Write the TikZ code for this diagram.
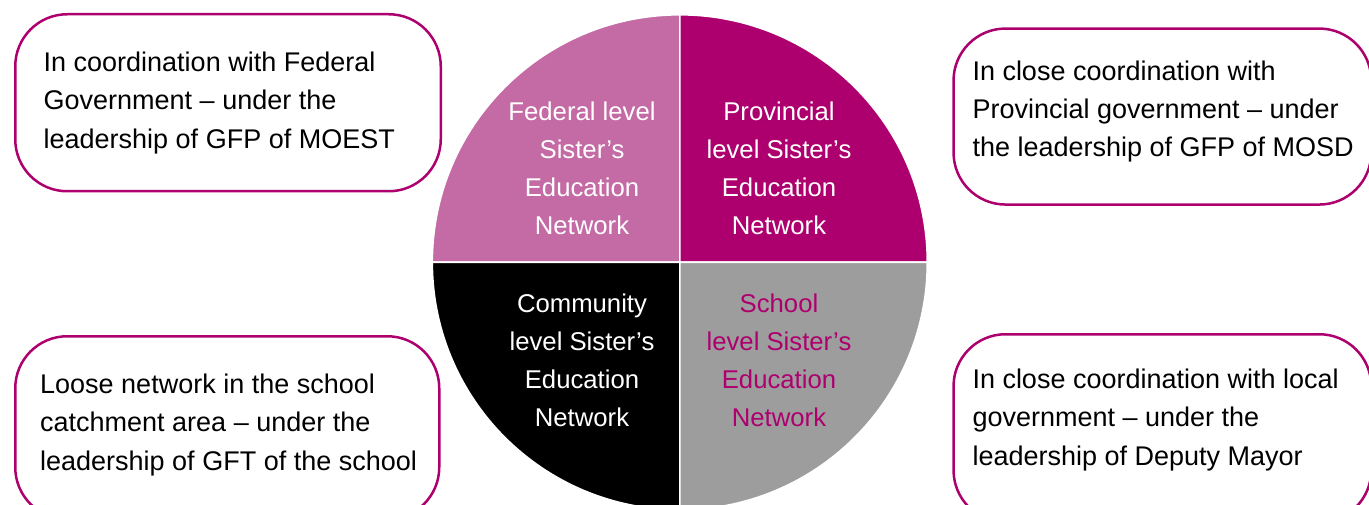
\documentclass[tikz,border=0pt]{standalone}
\usepackage{fontspec}
\setmainfont{Liberation Sans}
\definecolor{pinkq}{HTML}{C46AA4}
\definecolor{magq}{HTML}{AD006E}
\definecolor{grayq}{HTML}{9D9D9D}
\tikzset{
  boxtxt/.style={anchor=base west, align=left, inner sep=0pt, font=\fontsize{27}{38.3}\selectfont},
  qtxt/.style={anchor=base, align=center, inner sep=0pt, font=\fontsize{25.7}{37.9}\selectfont, text=white},
  netbox/.style={draw=magq, line width=2.5pt, rounded corners=52pt, anchor=north west, inner sep=0pt, fill=white},
  quad/.style={draw=white, line width=1.6pt}
}
\begin{document}
\begin{tikzpicture}[x=1pt,y=1pt]
\useasboundingbox (0,0) rectangle (1369,-505);
\clip (0,0) rectangle (1369,-505);
\fill[white] (0,0) rectangle (1369,-505);
\coordinate (c) at (679.8,-262.3);
% quadrants
\path[quad, fill=pinkq] (c) -- ++(-247.5,0) arc[start angle=180, end angle=90, radius=247.5] -- cycle;
\path[quad, fill=magq] (c) -- ++(0,247.5) arc[start angle=90, end angle=0, radius=247.5] -- cycle;
\path[quad, fill=black] (c) -- ++(-247.5,0) arc[start angle=180, end angle=270, radius=247.5] -- cycle;
\path[quad, fill=grayq] (c) -- ++(247.5,0) arc[start angle=0, end angle=-90, radius=247.5] -- cycle;
% boxes
\node[netbox, minimum width=425.5pt, minimum height=177pt] (b1) at (14,-13) {};
\node[netbox, minimum width=417.7pt, minimum height=176pt] (b2) at (952.3,-27.3) {};
\node[netbox, minimum width=424pt, minimum height=183pt] (b3) at (14,-335) {};
\node[netbox, minimum width=417.7pt, minimum height=188pt] (b4) at (952.3,-333) {};
% box texts (anchored at the baseline of the last line)
\node[boxtxt] (t1) at (43.5,-148.3) {In coordination with Federal\\Government – under the\\leadership of GFP of MOEST};
\node[boxtxt] (t2) at (972.3,-157) {In close coordination with\\Provincial government – under\\the leadership of GFP of MOSD};
\node[boxtxt] (t3) at (40,-470) {Loose network in the school\\catchment area – under the\\leadership of GFT of the school};
\node[boxtxt] (t4) at (972.3,-465) {In close coordination with local\\government – under the\\leadership of Deputy Mayor};
% quadrant texts
\node[qtxt] (q1) at (582,-234.3) {Federal level\\Sister’s\\Education\\Network};
\node[qtxt] (q2) at (779,-234.3) {Provincial\\level Sister’s\\Education\\Network};
\node[qtxt] (q3) at (582,-426) {Community\\level Sister’s\\Education\\Network};
\node[qtxt, text=magq] (q4) at (779,-426) {School\\level Sister’s\\Education\\Network};
\end{tikzpicture}
\end{document}
